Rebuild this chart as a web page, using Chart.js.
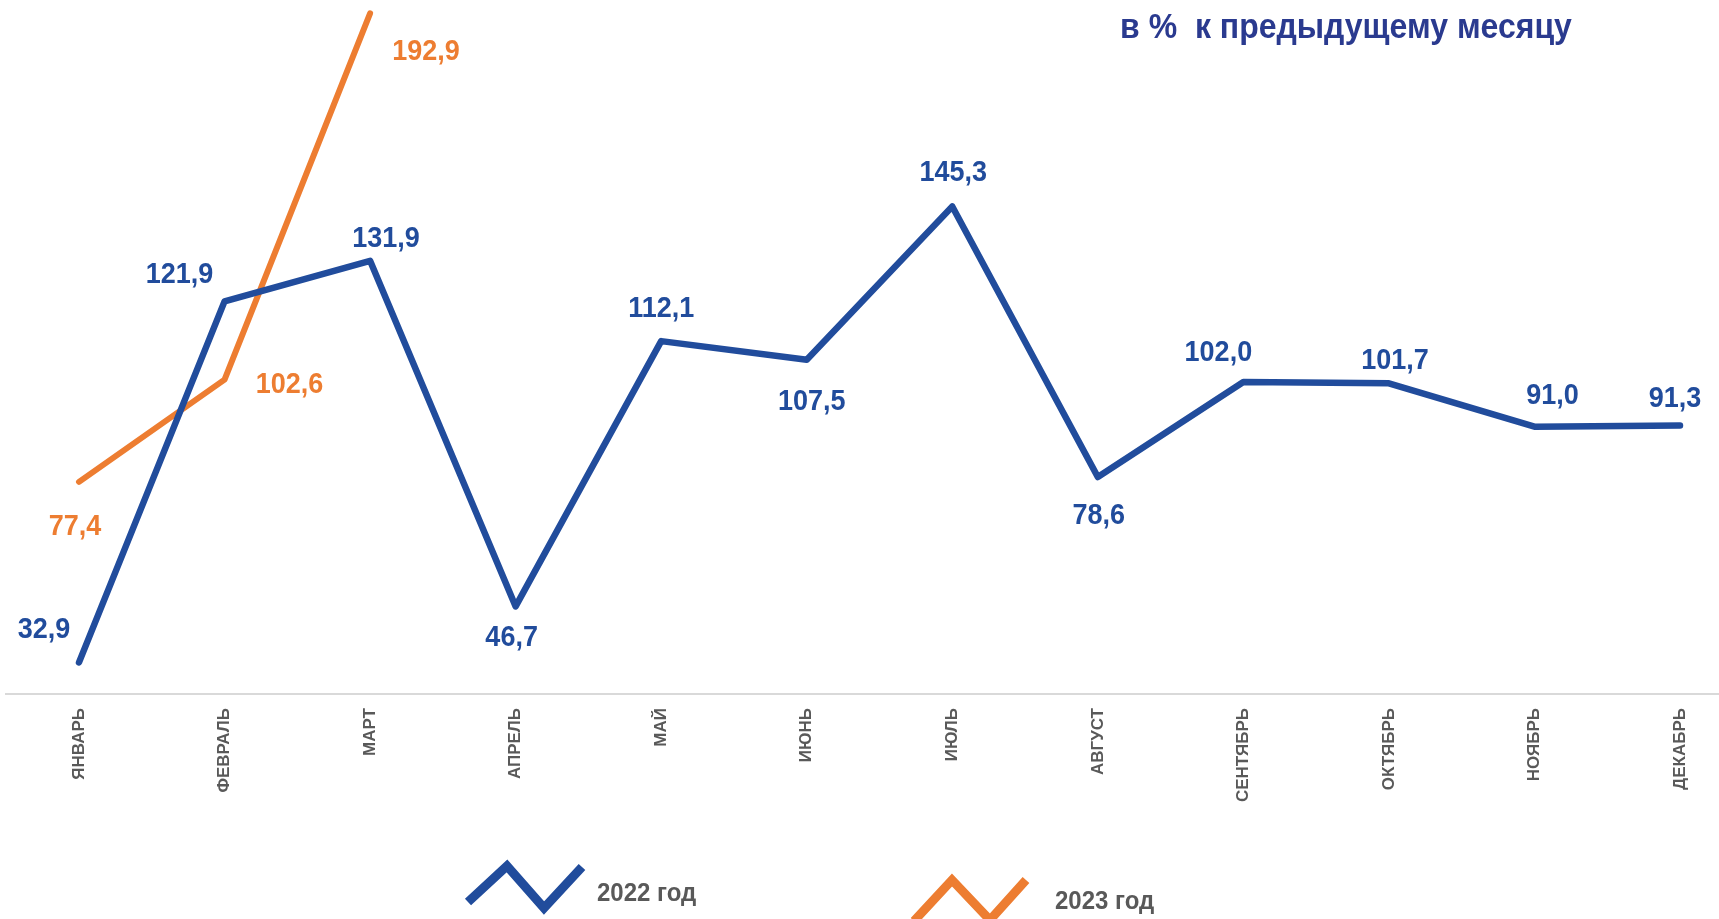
<!DOCTYPE html>
<html>
<head>
<meta charset="utf-8">
<script src="https://cdn.jsdelivr.net/npm/chart.js@4/dist/chart.umd.min.js"></script>
<style>
  html, body { margin: 0; padding: 0; background: #ffffff; }
  #wrap { position: relative; width: 1719px; height: 919px; }
</style>
</head>
<body>
<div id="wrap"><canvas id="c"></canvas></div>
<script>
// ---- data ----
const months = ['ЯНВАРЬ','ФЕВРАЛЬ','МАРТ','АПРЕЛЬ','МАЙ','ИЮНЬ','ИЮЛЬ','АВГУСТ','СЕНТЯБРЬ','ОКТЯБРЬ','НОЯБРЬ','ДЕКАБРЬ'];
const values2022 = [32.9, 121.9, 131.9, 46.7, 112.1, 107.5, 145.3, 78.6, 102.0, 101.7, 91.0, 91.3];
const values2023 = [77.4, 102.6, 192.9];
const seriesNames = ['2022 год', '2023 год'];
const titleText = 'в %  к предыдущему месяцу';

// ---- label placement offsets (pixels, relative to each point) ----
const labelDx2022 = [-35, -45, 16, -4, 0, 5, 1, 1, -25, 6, 18, -5];
const labelDy2022 = [-33, -27, -22, 31, -32, 42, -34, 39, -29, -23, -31, -27];
const labelDx2023 = [-4, 65, 56];
const labelDy2023 = [45, 5, 38];

const BLUE = '#214C9C';
const ORANGE = '#ED7D31';
const GRAY = '#595959';
const FONT = '"Liberation Sans", Arial, sans-serif';

const fmt = v => v.toFixed(1).replace('.', ',');

function tallText(ctx, text, x, y, sy) {
  ctx.save();
  ctx.translate(x, y);
  ctx.scale(1, sy);
  ctx.fillText(text, 0, 0);
  ctx.restore();
}

const labelsPlugin = {
  id: 'valueLabels',
  afterDatasetsDraw(chart) {
    const ctx = chart.ctx;
    const offs = [[labelDx2022, labelDy2022], [labelDx2023, labelDy2023]];
    ctx.save();
    ctx.font = 'bold 27px ' + FONT;
    ctx.textAlign = 'center';
    ctx.textBaseline = 'middle';
    chart.data.datasets.forEach((ds, di) => {
      const meta = chart.getDatasetMeta(di);
      ctx.fillStyle = ds.borderColor;
      meta.data.forEach((pt, i) => {
        tallText(ctx, fmt(ds.data[i]), pt.x + offs[di][0][i], pt.y + offs[di][1][i], 1.12);
      });
    });
    ctx.restore();
  }
};

const decorPlugin = {
  id: 'decor',
  beforeDatasetsDraw(chart) {
    const ctx = chart.ctx;
    const y = chart.chartArea.bottom;
    ctx.save();
    ctx.strokeStyle = '#D9D9D9';
    ctx.lineWidth = 2;
    ctx.beginPath();
    ctx.moveTo(5, y);
    ctx.lineTo(chart.width, y);
    ctx.stroke();
    ctx.restore();
  },
  afterDraw(chart) {
    const ctx = chart.ctx;
    ctx.save();
    // title
    ctx.font = 'bold 32px ' + FONT;
    ctx.fillStyle = '#2A3A8F';
    ctx.textAlign = 'center';
    ctx.textBaseline = 'middle';
    tallText(ctx, titleText, 1346, 28, 1.08);
    // legend
    const items = [
      { pts: [[468, 902], [507, 866], [544, 908], [582, 867]], tx: 597, ty: 894 },
      { pts: [[914, 921], [952, 880], [990, 920], [1026, 880]], tx: 1055, ty: 902 }
    ];
    items.forEach((it, i) => {
      const ds = chart.data.datasets[i];
      ctx.strokeStyle = ds.borderColor;
      ctx.lineWidth = 9;
      ctx.lineJoin = 'miter';
      ctx.lineCap = 'butt';
      ctx.beginPath();
      it.pts.forEach((p, k) => k ? ctx.lineTo(p[0], p[1]) : ctx.moveTo(p[0], p[1]));
      ctx.stroke();
      ctx.font = 'bold 24px ' + FONT;
      ctx.fillStyle = GRAY;
      ctx.textAlign = 'left';
      ctx.textBaseline = 'middle';
      tallText(ctx, ds.label, it.tx, it.ty, 1.1);
    });
    ctx.restore();
  }
};

new Chart(document.getElementById('c'), {
  type: 'line',
  data: {
    labels: months,
    datasets: [
      { label: seriesNames[0], data: values2022, borderColor: BLUE, backgroundColor: BLUE,
        borderWidth: 6.5, pointRadius: 0, tension: 0, borderCapStyle: 'round', borderJoinStyle: 'round', clip: false },
      { label: seriesNames[1], data: values2023, borderColor: ORANGE, backgroundColor: ORANGE,
        borderWidth: 6, pointRadius: 0, tension: 0, borderCapStyle: 'round', borderJoinStyle: 'round', clip: false }
    ]
  },
  options: {
    responsive: true,
    maintainAspectRatio: false,
    animation: false,
    layout: { padding: { left: 79, right: 39, top: 0, bottom: 0 } },
    plugins: { legend: { display: false }, title: { display: false }, tooltip: { enabled: false } },
    scales: {
      x: {
        offset: false,
        grid: { display: false, drawTicks: false },
        border: { display: false },
        ticks: {
          autoSkip: false, minRotation: 90, maxRotation: 90, padding: 14,
          color: GRAY, font: { family: FONT, size: 17, weight: 'bold' }
        },
        afterFit(scale) { scale.height = 225; }
      },
      y: {
        display: false,
        min: 25.1,
        max: 196.2
      }
    }
  },
  plugins: [decorPlugin, labelsPlugin]
});
</script>
</body>
</html>
